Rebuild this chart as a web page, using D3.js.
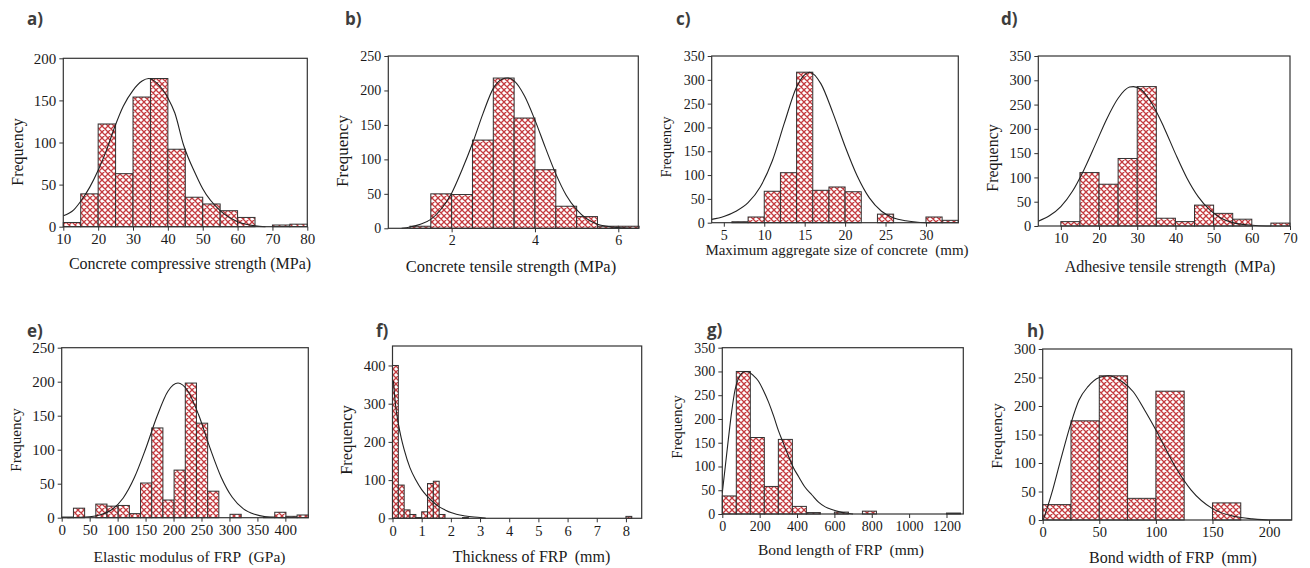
<!DOCTYPE html>
<html>
<head>
<meta charset="utf-8">
<script src="https://cdn.jsdelivr.net/npm/d3@7"></script>
<style>
  body { margin: 0; background: #fff; }
  text { font-family: "Liberation Serif", "Times New Roman", serif; fill: #1a1a1a; }
  .lbl { font-family: "Open Sans", "Noto Sans", sans-serif; font-weight: 700; fill: #3d3d3d; }
</style>
</head>
<body>
<svg id="chart" width="1310" height="568"></svg>
<script>
// a) concrete compressive strength
const aStarts = [10, 15, 20, 25, 30, 35, 40, 45, 50, 55, 60, 65, 70, 75]
const aCounts = [5, 39, 122, 63, 154, 176, 92, 35, 27, 19, 11, 0, 2, 3]
const aCurveX = [10, 13, 15.3, 17.6, 20, 22.4, 24.8, 27.2, 30, 32.6, 34.5, 37, 40, 42, 44.5, 48, 50, 55, 60, 65, 68]
const aCurveY = [13, 20, 32, 47, 67, 91, 119, 143, 162, 173, 176, 170, 153, 135, 97, 62, 45, 19, 6, 1, 0]
const aXTicks = [10, 20, 30, 40, 50, 60, 70, 80]
const aYTicks = [0, 50, 100, 150, 200]

// b) concrete tensile strength
const bStarts = [1.0, 1.5, 2.0, 2.5, 3.0, 3.5, 4.0, 4.5, 5.0, 5.5, 6.0]
const bCounts = [3, 50, 49, 128, 218, 160, 85, 32, 17, 3, 3]
const bCurveX = [0.8, 1.0, 1.25, 1.5, 1.75, 2.0, 2.25, 2.5, 2.75, 3.0, 3.2, 3.35, 3.5, 3.75, 4.0, 4.25, 4.5, 4.75, 5.0, 5.5, 6.0, 6.3]
const bCurveY = [0, 2, 6, 13, 28, 51, 85, 123, 166, 203, 216, 218, 214, 192, 157, 117, 79, 48, 27, 6, 1, 0]
const bXTicks = [2, 4, 6]
const bYTicks = [0, 50, 100, 150, 200, 250]

// c) maximum aggregate size
const cStarts = [6, 8, 10, 12, 14, 16, 18, 20, 22, 24, 26, 28, 30, 32]
const cCounts = [2, 12, 66, 105, 316, 68, 75, 65, 0, 18, 0, 0, 12, 5]
const cCurveX = [3.5, 5, 6.5, 8, 9.5, 11, 12.5, 14, 15.6, 17, 18.5, 20, 21.5, 23, 24.5, 26, 27.5, 29, 30.5]
const cCurveY = [7, 13, 24, 42, 75, 130, 210, 285, 316, 292, 230, 160, 98, 52, 24, 10, 4, 1, 0]
const cXTicks = [5, 10, 15, 20, 25, 30]
const cYTicks = [0, 50, 100, 150, 200, 250, 300, 350]

// d) adhesive tensile strength
const dStarts = [10, 15, 20, 25, 30, 35, 40, 45, 50, 55, 60, 65]
const dCounts = [9, 110, 86, 139, 287, 16, 9, 43, 26, 14, 0, 6]
const dCurveX = [4.1, 7, 10, 13, 16, 19, 22, 25, 28, 29, 31, 34, 37, 40, 43, 46, 49, 52, 55, 58, 61, 65]
const dCurveY = [10, 21, 40, 71, 115, 167, 220, 263, 286, 287, 281, 250, 203, 149, 99, 60, 33, 16, 7, 3, 1, 0]
const dXTicks = [10, 20, 30, 40, 50, 60, 70]
const dYTicks = [0, 50, 100, 150, 200, 250, 300, 350]

// e) elastic modulus of FRP
const eStarts = [1, 21, 41, 61, 81, 101, 121, 141, 161, 181, 201, 221, 241, 261, 281, 301, 321, 341, 361, 381, 401, 421]
const eCounts = [1, 14, 0, 20, 17, 18, 6, 51, 132, 26, 70, 198, 139, 39, 0, 5, 0, 0, 1, 8, 2, 4]
const eCurveX = [10, 50, 70, 90, 110, 130, 150, 170, 190, 208, 225, 245, 265, 285, 305, 325, 345, 365, 385, 400]
const eCurveY = [0, 1.3, 4.4, 12, 29, 59, 101, 148, 186, 198, 187, 151, 103, 60, 30, 13, 5, 1.4, 0.3, 0]
const eXTicks = [0, 50, 100, 150, 200, 250, 300, 350, 400]
const eYTicks = [0, 50, 100, 150, 200, 250]

// f) thickness of FRP
const fStarts = [0, 0.2, 0.4, 0.6, 0.8, 1.0, 1.2, 1.4, 1.6, 2.4, 8.0]
const fCounts = [400, 87, 22, 10, 2, 17, 91, 97, 10, 2, 5]
const fCurveX = [0.03, 0.1, 0.2, 0.3, 0.4, 0.6, 0.8, 1.0, 1.2, 1.4, 1.6, 1.8, 2.0, 2.5, 3.0, 3.2]
const fCurveY = [360, 300, 248, 210, 180, 132, 100, 75, 57, 42, 30, 22, 15, 6, 2, 0]
const fXTicks = [0, 1, 2, 3, 4, 5, 6, 7, 8]
const fYTicks = [0, 100, 200, 300, 400]

// g) bond length of FRP
const gStarts = [0, 75, 150, 225, 300, 375, 450, 600, 750, 1200]
const gCounts = [38, 300, 161, 58, 157, 16, 3, 4, 6, 2]
const gCurveX = [0, 16, 32, 50, 68, 86, 104, 122, 140, 165, 193, 220, 247, 275, 300, 330, 355, 380, 408, 440, 480, 515, 551, 590, 623, 660, 700]
const gCurveY = [45, 100, 156, 215, 261, 285, 296, 300, 299, 292, 280, 260, 236, 206, 176, 146, 121, 98, 79, 58, 40, 25, 15, 9, 5, 2, 0]
const gXTicks = [0, 200, 400, 600, 800, 1000, 1200]
const gYTicks = [0, 50, 100, 150, 200, 250, 300, 350]

// h) bond width of FRP
const hStarts = [0, 25, 50, 75, 100, 150]
const hCounts = [27, 174, 253, 38, 226, 30]
const hCurveX = [0.5, 8, 15, 25, 32, 40, 50, 58, 70, 80, 90, 100, 117, 131, 150, 170, 185, 200, 220]
const hCurveY = [0, 47, 99, 170, 210, 234, 250, 253, 243, 225, 193, 158, 94, 53, 20, 6, 2, 0, 0]
const hXTicks = [0, 50, 100, 150, 200]
const hYTicks = [0, 50, 100, 150, 200, 250, 300]

const titles = [
  "Concrete compressive strength (MPa)",
  "Concrete tensile strength (MPa)",
  "Maximum aggregate size of concrete  (mm)",
  "Adhesive tensile strength  (MPa)",
  "Elastic modulus of FRP  (GPa)",
  "Thickness of FRP  (mm)",
  "Bond length of FRP  (mm)",
  "Bond width of FRP  (mm)"
]
const letters = ["a)", "b)", "c)", "d)", "e)", "f)", "g)", "h)"]

const serif = '"Liberation Serif", "Times New Roman", Times, serif'

// layout of each small multiple (pixel box, domains, fonts)
const panels = [
  { starts: aStarts, counts: aCounts, w: 5, cx: aCurveX, cy: aCurveY, xt: aXTicks, yt: aYTicks,
    box: [63.3, 58.3, 307.3, 226.7], xd: [10, 80], yd: [0, 200], tick: 15, tf: 16, ff: 16,
    title: [190, 269], fy: 152, let: [27, 25] },
  { starts: bStarts, counts: bCounts, w: 0.5, cx: bCurveX, cy: bCurveY, xt: bXTicks, yt: bYTicks,
    box: [388.3, 56, 638.3, 228.3], xd: [0.48, 6.48], yd: [0, 250], tick: 14, tf: 16.5, ff: 17,
    title: [511, 272], fy: 151, let: [345, 25] },
  { starts: cStarts, counts: cCounts, w: 2, cx: cCurveX, cy: cCurveY, xt: cXTicks, yt: cYTicks,
    box: [711.7, 56, 958.3, 222.7], xd: [3.5, 34], yd: [0, 350], tick: 14, tf: 15, ff: 14.5,
    title: [837, 255], fy: 147, let: [676, 25] },
  { starts: dStarts, counts: dCounts, w: 5, cx: dCurveX, cy: dCurveY, xt: dXTicks, yt: dYTicks,
    box: [1038.3, 56, 1290, 226], xd: [4.1, 70], yd: [0, 350], tick: 14.5, tf: 16, ff: 16,
    title: [1170, 272], fy: 158, let: [1001, 25] },
  { starts: eStarts, counts: eCounts, w: 20, cx: eCurveX, cy: eCurveY, xt: eXTicks, yt: eYTicks,
    box: [61.7, 347.7, 308.3, 517.7], xd: [0, 441], yd: [0, 250], tick: 15, tf: 15.5, ff: 15,
    title: [189.5, 562], fy: 440, let: [27, 337] },
  { starts: fStarts, counts: fCounts, w: 0.2, cx: fCurveX, cy: fCurveY, xt: fXTicks, yt: fYTicks,
    box: [392.5, 346, 641.7, 518.3], xd: [0, 8.54], yd: [0, 451], tick: 14.5, tf: 16, ff: 16.5,
    title: [531.5, 562], fy: 440, let: [376, 337] },
  { starts: gStarts, counts: gCounts, w: 75, cx: gCurveX, cy: gCurveY, xt: gXTicks, yt: gYTicks,
    box: [722.3, 347.7, 963.3, 514], xd: [0, 1290], yd: [0, 350], tick: 14, tf: 15.5, ff: 15,
    title: [841, 555], fy: 427, let: [707, 336] },
  { starts: hStarts, counts: hCounts, w: 25, cx: hCurveX, cy: hCurveY, xt: hXTicks, yt: hYTicks,
    box: [1042.7, 349, 1291.7, 520], xd: [0, 220], yd: [0, 300], tick: 14.5, tf: 16, ff: 15.5,
    title: [1173, 563], fy: 436, let: [1027, 337] }
]

const svg = d3.select("#chart")

const pat = svg.append("defs").append("pattern")
    .attr("id", "hatch")
    .attr("patternUnits", "userSpaceOnUse")
    .attr("width", 6)
    .attr("height", 6)
pat.append("rect").attr("width", 6).attr("height", 6).attr("fill", "#fff")
pat.append("path")
    .attr("d", "M0,0L6,6M6,0L0,6M-1,5L1,7M5,-1L7,1M-1,1L1,-1M5,7L7,5")
    .attr("stroke", "#c43b3f")
    .attr("stroke-width", 1.3)

panels.forEach(function(p, i) {
  const [left, top, right, bottom] = p.box
  const x = d3.scaleLinear().domain(p.xd).range([left, right])
  const y = d3.scaleLinear().domain(p.yd).range([bottom, top])
  const g = svg.append("g")

  const bars = p.starts
    .map((s, j) => ({ x0: s, x1: s + p.w, n: p.counts[j] }))
    .filter(d => d.n > 0)

  g.selectAll(".bar")
    .data(bars)
  .enter().append("rect")
    .attr("class", "bar")
    .attr("x", d => x(d.x0))
    .attr("width", d => x(d.x1) - x(d.x0))
    .attr("y", d => y(d.n))
    .attr("height", d => y(0) - y(d.n))
    .attr("fill", "url(#hatch)")
    .attr("stroke", "#333")
    .attr("stroke-width", 1)

  const line = d3.line()
    .x(d => x(d[0]))
    .y(d => y(d[1]))
    .curve(d3.curveMonotoneX)

  g.append("path")
    .datum(d3.zip(p.cx, p.cy))
    .attr("d", line)
    .attr("fill", "none")
    .attr("stroke", "#222")
    .attr("stroke-width", 1.1)

  g.append("rect")
    .attr("x", left).attr("y", top)
    .attr("width", right - left).attr("height", bottom - top)
    .attr("fill", "none")
    .attr("stroke", "#333")
    .attr("stroke-width", 1.2)

  const xax = g.append("g")
    .attr("transform", "translate(0," + bottom + ")")
    .call(d3.axisBottom(x).tickValues(p.xt).tickSize(4).tickPadding(3).tickFormat(d3.format("d")))
  const yax = g.append("g")
    .attr("transform", "translate(" + left + ",0)")
    .call(d3.axisLeft(y).tickValues(p.yt).tickSize(4).tickPadding(3).tickFormat(d3.format("d")))

  ;[xax, yax].forEach(function(ax) {
    ax.attr("font-family", null).attr("font-size", null)
    ax.select(".domain").remove()
    ax.selectAll("line").attr("stroke", "#333")
    ax.selectAll("text")
      .attr("fill", "#1a1a1a")
      .style("font-family", serif)
      .style("font-size", p.tick + "px")
  })

  g.append("text")
    .attr("x", p.title[0]).attr("y", p.title[1])
    .attr("text-anchor", "middle")
    .style("font-family", serif)
    .style("font-size", p.tf + "px")
    .style("white-space", "pre")
    .text(titles[i])

  g.append("text")
    .attr("transform", "translate(" + (left - 46) + "," + p.fy + ") rotate(-90)")
    .attr("text-anchor", "middle")
    .attr("dy", "0.35em")
    .style("font-family", serif)
    .style("font-size", p.ff + "px")
    .text("Frequency")

  g.append("text")
    .attr("class", "lbl")
    .attr("x", p.let[0]).attr("y", p.let[1])
    .style("font-size", "17px")
    .text(letters[i])
})
</script>
</body>
</html>
